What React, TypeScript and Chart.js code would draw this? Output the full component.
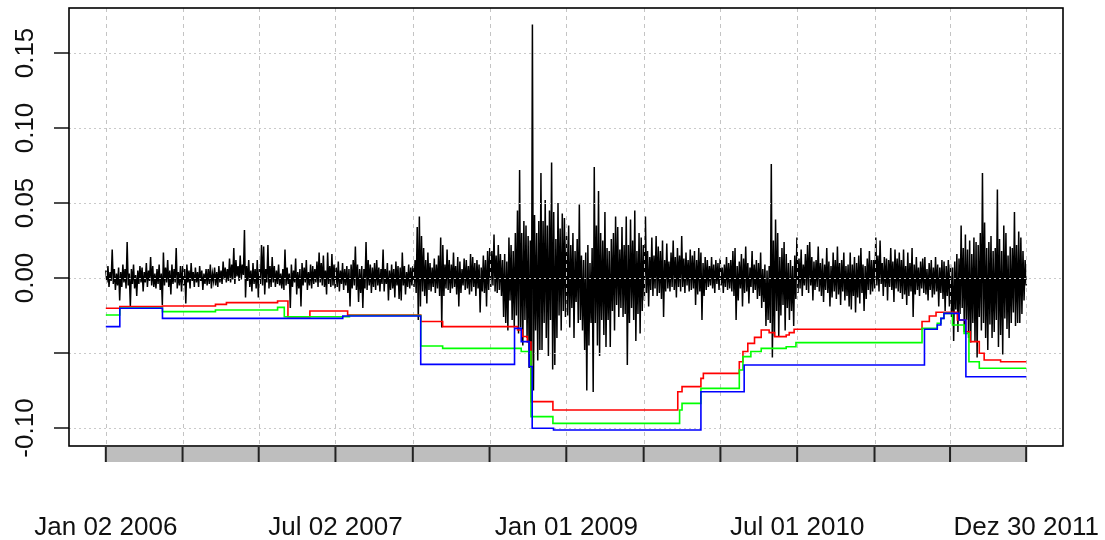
import React, { useEffect, useRef } from "react";
import { Chart, registerables } from "chart.js";

Chart.register(...registerables);

// ---- DATA ----
const LAST_DAY = 1511; // trading-day index of Dez 30 2011 (Jan 02 2006 = 0)

const xTickDays = [0, 126, 251, 377, 504, 630, 756, 883, 1009, 1135, 1262, 1386, 1511];
const xTickLabels = [
  "Jan 02 2006", "", "", "Jul 02 2007", "", "", "Jan 01 2009", "", "", "Jul 01 2010", "", "", "Dez 30 2011",
];

const yTicks = [-0.1, -0.05, 0, 0.05, 0.1, 0.15];
const yTickLabels = ["-0.10", "", "0.00", "0.05", "0.10", "0.15"];

// daily returns (sampled, evenly spaced over the period), in thousandths
const returnsPermille = [
  // 2006 H1
  5, -3, 8, -6, 4, -2, 19, -4, 6, -8, 3, -5,
  7, -15, 4, -6, 9, -3, 6, -7, 24, -5, 3, -19,
  6, -4, 9, -7, 2, -12, 5, -4, 8, -3, 7, -9,
  4, -3, 10, -6, 5, -2, 14, -5, 8, -6, 3, -7,
  6, -4, 9, -8, 3, -18, 17, -5, 7, -3, 12, -6,
  5, -11, 9, -4, 6, -3, 20, -7, 4, -5, 8, -9,
  // 2006 H2
  8, -5, 6, -17, 9, -3, 5, -7, 10, -2, 4, -6,
  7, -3, 4, -6, 8, -2, 5, -8, 3, -4, 6, -5,
  6, -4, 9, -7, 3, -2, 7, -5, 4, -6, 8, -3,
  5, -4, 11, -1, 7, -3, 6, -2, 13, -3, 9, -1,
  20, -4, 12, 1, 8, -2, 15, -1, 9, 2, 32, -13,
  8, -2, 12, -6, 5, -9, 10, -4, 6, -7, 12, -13,
  // 2007 H1
  6, -4, 22, -5, 21, -11, 6, -3, 22, -7, 8, -6,
  14, -3, 8, -6, 5, -4, 9, -5, 3, -7, 6, -8,
  19, -5, 7, -4, 3, -20, 9, -6, 5, -3, 13, -11,
  4, -7, 6, -19, 10, -5, 7, -3, 12, -8, 4, -5,
  9, -7, 8, -4, 6, -3, 11, -6, 17, -3, 10, -5,
  15, -6, 5, -11, 17, -4, 8, -6, 16, -5, 9, -7,
  // 2007 H2
  7, -6, 11, -9, 5, -4, 10, -8, 6, -5, 8, -10,
  6, -19, 9, -7, 12, -5, 21, -8, 9, -16, 6, -10,
  8, -20, 6, -7, 24, -8, 12, -5, 9, -10, 7, -6,
  10, -8, 12, -5, 7, -9, 6, -4, 19, -9, 6, -4,
  10, -15, 5, -8, 9, -7, 6, -13, 11, -5, 8, -14,
  7, -15, 17, -5, 8, -11, 4, -6, 9, -7, 7, -5,
  // 2008 H1
  8, -6, 12, -10, 34, -28, 41, -19, 28, -9, 20, -12,
  12, -17, 17, -8, 10, -9, 7, -6, 13, -10, 9, -7,
  15, -12, 27, -33, 22, -12, 9, -7, 19, -8, 12, -10,
  9, -7, 17, -6, 8, -11, 14, -19, 11, -10, 6, -5,
  13, -8, 12, -7, 8, -11, 16, -9, 14, -6, 10, -12,
  12, -7, 9, -23, 7, -9, 15, -10, 12, -19, 18, -8,
  // 2008 H2
  20, -6, 18, -5, 29, -9, 15, -10, 22, -8, 16, -12,
  12, -26, 16, -30, 11, -35, 27, -15, 22, -28, 18, -33,
  30, -25, 45, -37, 72, -33, 30, -45, 38, -28, 35, -40,
  28, -60, 25, -81, 169, -75, 42, -35, 30, -55, 38, -48,
  70, -48, 38, -30, 52, -40, 35, -52, 45, -28, 77, -61,
  44, -58, 26, -40, 50, -25, 33, -35, 43, -22, 40, -26,
  // 2009 H1
  28, -25, 35, -33, 22, -20, 30, -40, 18, -16, 26, -30,
  49, -28, 15, -35, 12, -48, 17, -75, 22, -45, 10, -30,
  20, -76, 74, -30, 35, -45, 58, -52, 30, -28, 25, -38,
  44, -46, 20, -28, 18, -46, 26, -22, 30, -35, 41, -18,
  34, -26, 19, -20, 34, -26, 22, -24, 41, -58, 22, -30,
  39, -20, 25, -28, 45, -42, 18, -24, 30, -37, 27, -22,
  // 2009 H2
  22, -15, 41, -10, 18, -19, 14, -8, 27, -12, 15, -7,
  28, -12, 21, -10, 18, -14, 25, -26, 12, -9, 23, -7,
  11, -9, 17, -6, 25, -8, 14, -13, 20, -6, 15, -9,
  28, -6, 13, -10, 17, -5, 12, -9, 19, -8, 15, -7,
  18, -18, 12, -11, 20, -9, 17, -28, 10, -12, 14, -8,
  12, -6, 8, -5, 14, -7, 9, -10, 12, -4, 10, -8,
  // 2010 H1
  13, -5, 7, -10, 9, -6, 14, -8, 10, -7, 12, -9,
  18, -12, 20, -28, 8, -15, 11, -7, 16, -19, 13, -10,
  21, -9, 10, -17, 7, -6, 18, -10, 9, -8, 12, -14,
  10, -12, 17, -20, 6, -16, 9, -32, 5, -28, 8, -30,
  76, -53, 25, -39, 39, -22, 30, -39, 14, -25, 20, -18,
  24, -35, 16, -20, 10, -28, 12, -22, 8, -32, 15, -14,
  // 2010 H2
  27, -10, 13, -7, 19, -12, 9, -5, 16, -8, 22, -10,
  24, -5, 14, -15, 11, -8, 12, -6, 21, -9, 10, -12,
  13, -16, 9, -8, 20, -10, 11, -19, 8, -13, 17, -9,
  12, -14, 21, -11, 10, -18, 12, -9, 17, -15, 8, -12,
  9, -19, 17, -21, 9, -12, 14, -23, 10, -13, 15, -17,
  20, -10, 9, -22, 8, -14, 13, -8, 18, -11, 12, -9,
  // 2011 H1
  12, -7, 27, -5, 15, -9, 25, -4, 10, -12, 14, -6,
  13, -15, 12, -6, 20, -8, 11, -16, 19, -7, 13, -9,
  17, -10, 12, -14, 19, -11, 8, -18, 17, -12, 10, -9,
  20, -26, 9, -11, 14, -8, 7, -12, 11, -7, 13, -10,
  14, -11, 6, -15, 10, -8, 12, -13, 7, -11, 14, -9,
  9, -19, 7, -10, 12, -14, 11, -22, 8, -12, 12, -19,
  // 2011 H2
  9, -26, 7, -42, 11, -21, 16, -36, 13, -24, 35, -20,
  20, -36, 29, -28, 19, -40, 25, -43, 16, -30, 27, -42,
  24, -53, 22, -26, 30, -35, 70, -30, 37, -40, 20, -48,
  24, -31, 28, -40, 18, -36, 20, -28, 59, -46, 26, -38,
  18, -51, 35, -27, 30, -34, 15, -40, 21, -30, 20, -23,
  44, -32, 22, -30, 31, -30, 27, -24, 18, -15, 12, -5,
];

// VaR step series: [trading-day index where the level starts, level]
const redSteps: [number, number][] = [
  [0, -0.0202], [23, -0.019], [93, -0.0187], [180, -0.0176], [198, -0.0164], [282, -0.0153],
  [299, -0.0258], [335, -0.022], [397, -0.0247], [517, -0.029], [553, -0.0324], [676, -0.0347],
  [684, -0.039], [692, -0.0427], [698, -0.0824], [734, -0.088], [939, -0.0758], [946, -0.0724],
  [977, -0.0669], [981, -0.0636], [1040, -0.0558], [1046, -0.049], [1054, -0.0436], [1065, -0.0396],
  [1076, -0.0347], [1089, -0.0364], [1098, -0.0391], [1117, -0.038], [1122, -0.0364], [1130, -0.0342],
  [1340, -0.029], [1352, -0.0253], [1363, -0.0228], [1398, -0.028], [1412, -0.0358], [1419, -0.0424],
  [1434, -0.0502], [1442, -0.0547], [1469, -0.0558], [1511, -0.0558],
];
const greenSteps: [number, number][] = [
  [0, -0.0247], [23, -0.02], [93, -0.0224], [180, -0.0213], [282, -0.0196], [293, -0.0258],
  [400, -0.025], [517, -0.0453], [553, -0.0469], [682, -0.049], [698, -0.0924], [734, -0.0969],
  [942, -0.088], [946, -0.0836], [977, -0.0736], [1040, -0.0613], [1046, -0.0524], [1059, -0.049],
  [1076, -0.0469], [1117, -0.0458], [1133, -0.0431], [1340, -0.0336], [1365, -0.0302], [1371, -0.0269],
  [1376, -0.0236], [1390, -0.0313], [1409, -0.0369], [1417, -0.0558], [1434, -0.0602], [1511, -0.0602],
];
const blueSteps: [number, number][] = [
  [0, -0.0324], [23, -0.0202], [93, -0.0269], [389, -0.0253], [517, -0.0576], [671, -0.0336],
  [682, -0.0424], [695, -0.059], [700, -0.1002], [735, -0.1013], [977, -0.0758], [1048, -0.058],
  [1344, -0.0342], [1365, -0.0313], [1371, -0.0269], [1376, -0.0236], [1401, -0.028], [1412, -0.0658],
  [1511, -0.0658],
];

const FONT = '"Liberation Sans", Arial, Helvetica, sans-serif';

const rOverlay = {
  id: "rOverlay",
  afterDatasetDraw(chart: any, args: any) {
    if (args.index !== 0) return;
    const { ctx, chartArea: a, scales } = chart;
    const x = scales.x;
    const y = scales.y;
    ctx.save();
    ctx.lineWidth = 1;
    ctx.strokeStyle = "#c4c4c4";
    ctx.setLineDash([4, 4]);
    xTickDays.forEach((d) => {
      const px = Math.round(x.getPixelForValue(d)) + 0.5;
      ctx.beginPath();
      ctx.moveTo(px, a.top);
      ctx.lineTo(px, a.bottom);
      ctx.stroke();
    });
    ctx.strokeStyle = "#cacaca";
    ctx.setLineDash([2, 3]);
    yTicks.forEach((v) => {
      const py = Math.round(y.getPixelForValue(v)) + 0.5;
      ctx.beginPath();
      ctx.moveTo(a.left, py);
      ctx.lineTo(a.right, py);
      ctx.stroke();
    });
    ctx.restore();
  },
  afterDraw(chart: any) {
    const { ctx, chartArea: a, scales } = chart;
    const x = scales.x;
    const y = scales.y;
    ctx.save();
    ctx.setLineDash([]);
    // plot box
    ctx.strokeStyle = "#000";
    ctx.lineWidth = 1.6;
    ctx.strokeRect(a.left, a.top, a.right - a.left, a.bottom - a.top);
    // y ticks + labels
    ctx.lineWidth = 1.4;
    ctx.fillStyle = "#111";
    ctx.font = `26px ${FONT}`;
    ctx.textAlign = "center";
    ctx.textBaseline = "alphabetic";
    yTicks.forEach((v, i) => {
      const py = y.getPixelForValue(v);
      ctx.beginPath();
      ctx.moveTo(a.left - 15, py);
      ctx.lineTo(a.left, py);
      ctx.stroke();
      if (yTickLabels[i]) {
        ctx.save();
        ctx.translate(a.left - 36, py);
        ctx.rotate(-Math.PI / 2);
        ctx.fillText(yTickLabels[i], 0, 0);
        ctx.restore();
      }
    });
    // x axis gray band
    const x0 = x.getPixelForValue(0);
    const x1 = x.getPixelForValue(LAST_DAY);
    const barTop = a.bottom + 1;
    const barBottom = a.bottom + 16;
    ctx.fillStyle = "#bebebe";
    ctx.fillRect(x0, barTop, x1 - x0, barBottom - barTop);
    ctx.strokeStyle = "#222";
    ctx.lineWidth = 2;
    xTickDays.forEach((d) => {
      const px = x.getPixelForValue(d);
      ctx.beginPath();
      ctx.moveTo(px, barTop);
      ctx.lineTo(px, barBottom);
      ctx.stroke();
    });
    // x labels
    ctx.fillStyle = "#111";
    xTickDays.forEach((d, i) => {
      if (!xTickLabels[i]) return;
      ctx.fillText(xTickLabels[i], x.getPixelForValue(d), 535);
    });
    ctx.restore();
  },
};

export default function App() {
  const canvasRef = useRef<HTMLCanvasElement | null>(null);

  useEffect(() => {
    const canvas = canvasRef.current;
    if (!canvas) return;
    const n = returnsPermille.length;
    const blackData = returnsPermille.map((r, i) => ({ x: (i * LAST_DAY) / (n - 1), y: r / 1000 }));
    const toPts = (s: [number, number][]) => s.map(([d, v]) => ({ x: d, y: v }));
    const chart = new Chart(canvas, {
      type: "line",
      data: {
        datasets: [
          {
            data: blackData,
            borderColor: "#000000",
            borderWidth: 1.5,
            pointRadius: 0,
            tension: 0,
            order: 5,
          },
          {
            data: toPts(redSteps),
            borderColor: "#ff0000",
            borderWidth: 1.6,
            pointRadius: 0,
            stepped: "before",
            order: 3,
          },
          {
            data: toPts(greenSteps),
            borderColor: "#00ff00",
            borderWidth: 1.6,
            pointRadius: 0,
            stepped: "before",
            order: 2,
          },
          {
            data: toPts(blueSteps),
            borderColor: "#0000ff",
            borderWidth: 1.6,
            pointRadius: 0,
            stepped: "before",
            order: 1,
          },
        ],
      },
      options: {
        animation: false,
        responsive: false,
        events: [],
        layout: { padding: { left: 69, right: 42, top: 8, bottom: 94 } },
        plugins: { legend: { display: false }, tooltip: { enabled: false }, title: { display: false } },
        scales: {
          x: { type: "linear", min: -0.04 * LAST_DAY, max: 1.04 * LAST_DAY, display: false },
          y: { type: "linear", min: -0.112, max: 0.18, display: false },
        },
      },
      plugins: [rOverlay],
    } as any);
    return () => chart.destroy();
  }, []);

  return (
    <div style={{ position: "absolute", left: 0, top: 0, width: 1105, height: 540, background: "#fff" }}>
      <canvas ref={canvasRef} width={1105} height={540} style={{ display: "block" }} />
    </div>
  );
}
